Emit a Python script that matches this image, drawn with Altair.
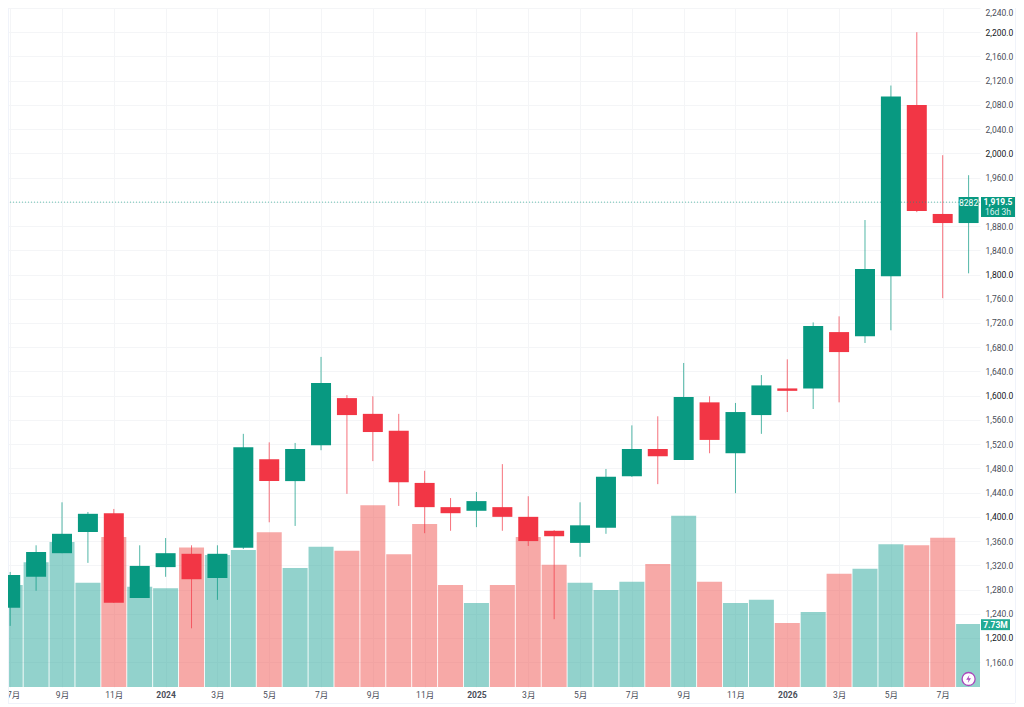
import altair as alt
import pandas as pd

month_index = list(range(38))
opens = [1250,1301,1340,1375,1406,1266,1317,1339,1299,1349,1495,1459,1518,1596,1570,1542,1456,1416,1410,1416,1400,1377,1357,1382,1467,1512,1494,1589,1505,1568,1612,1612,1705,1698,1797,2080,1900,1885]
highs = [1309,1353,1424,1408,1413,1353,1365,1353,1353,1537,1523,1522,1664,1601,1599,1570,1476,1431,1441,1487,1434,1378,1424,1479,1551,1566,1654,1599,1588,1634,1660,1721,1731,1890,2112,2200,1997,1964]
lows = [1220,1278,1340,1324,1258,1266,1301,1216,1263,1347,1391,1385,1510,1438,1492,1418,1373,1377,1383,1377,1352,1231,1334,1372,1466,1454,1494,1505,1439,1537,1573,1578,1589,1687,1708,1903,1761,1802]
closes = [1304,1342,1372,1405,1258,1319,1340,1297,1339,1515,1459,1512,1621,1568,1540,1457,1416,1406,1426,1400,1360,1368,1386,1466,1512,1500,1598,1527,1573,1617,1608,1715,1672,1809,2094,1905,1885,1919.5]
volumes = [12.5,15.3,17.8,12.8,18.4,12.3,12.1,17.1,16.2,16.8,19.0,14.6,17.2,16.7,22.3,16.3,20.0,12.5,10.3,12.5,18.4,15.0,12.8,11.9,12.9,15.1,21.0,12.9,10.3,10.7,7.85,9.2,13.9,14.5,17.5,17.4,18.3,7.73]
vol_up = [1,1,1,1,0,1,1,0,1,1,0,1,1,0,0,0,0,0,1,0,0,0,1,1,1,0,1,0,1,1,0,1,0,1,1,0,0,1]
tick_labels = ["7月","9月","11月","2024","3月","5月","7月","9月","11月","2025","3月","5月","7月","9月","11月","2026","3月","5月","7月"]
price_ticks = list(range(1160, 2241, 40))

UP, DOWN = "#089981", "#f23645"
FONT = "Roboto, Noto Sans CJK SC, sans-serif"
GRID = "#f4f5f7"

df = pd.DataFrame({"i": month_index, "o": opens, "h": highs, "l": lows, "c": closes, "v": volumes, "vu": vol_up})
df["top"] = df[["o", "c"]].max(axis=1)
df["bot"] = df[["o", "c"]].min(axis=1)
df["dir"] = ["up" if c >= o else "down" for o, c in zip(opens, closes)]
df["vdir"] = ["up" if u else "down" for u in vol_up]

dir_scale = alt.Scale(domain=["up", "down"], range=[UP, DOWN])
vol_scale = alt.Scale(domain=["up", "down"], range=["#26a69a", "#ef5350"])
labels_js = "[" + ",".join(f"'{t}'" for t in tick_labels) + "]"

x_scale = alt.Scale(domain=[-0.085, 37.44], nice=False, zero=False, padding=0)
x_axis = alt.Axis(values=list(range(0, 37, 2)), labelExpr=f"{labels_js}[datum.value/2]",
                  title=None, domain=False, ticks=False, grid=True, gridColor=GRID,
                  labelFont=FONT, labelFontSize=8.5, labelColor="#4a4e59", labelPadding=3,
                  labelOverlap=False, labelBound=False, labelAngle=0,
                  labelOffset={"condition": {"test": "datum.value==0", "value": 3}, "value": 0},
                  labelFontWeight={"condition": {"test": "indexof([6,18,30],datum.value)>=0", "value": "bold"}, "value": "normal"})
x = alt.X("i:Q", scale=x_scale, axis=x_axis)

y_scale = alt.Scale(domain=[1119.1, 2240], nice=False, zero=False)
y_axis = alt.Axis(values=price_ticks, orient="right", format=",.1f", title=None, domain=False, ticks=False,
                  grid=True, gridColor=GRID, labelFont=FONT, labelFontSize=8.5, labelPadding=5,
                  labelFlush=True, labelOverlap=False,
                  labelColor={"condition": {"test": "datum.value%200==0", "value": "#131722"}, "value": "#4a4e59"})
y = alt.Y("l:Q", scale=y_scale, axis=y_axis)

base = alt.Chart(df)

vol = base.mark_bar(size=25, opacity=0.5, clip=True).encode(
    x=x,
    y=alt.Y("v:Q", scale=alt.Scale(domain=[0, 83.3], nice=False), axis=None),
    color=alt.Color("vdir:N", scale=vol_scale, legend=None),
)

wick = base.mark_rule(strokeWidth=1, opacity=0.7, clip=True).encode(
    x=alt.X("i:Q", scale=x_scale, axis=x_axis), y=y, y2="h:Q",
    color=alt.Color("dir:N", scale=dir_scale, legend=None),
)
body = base.mark_bar(size=20, clip=True, orient="vertical").encode(
    x=alt.X("i:Q", scale=x_scale, axis=x_axis),
    y=alt.Y("bot:Q", scale=y_scale, axis=y_axis), y2="top:Q",
    color=alt.Color("dir:N", scale=dir_scale, legend=None),
)

last_df = pd.DataFrame({"i": [37], "p": [closes[-1]], "ctop": [1928.0], "txt": ["8282"], "tp": [1918.5],
                        "price": ["1,919.5"], "ptp": [1920.0], "left": ["16d 3h"], "ltp": [1903.0],
                        "tag_top": [1928.0], "tag_bot": [1895.0], "v_top": [1231.0], "v_bot": [1213.0],
                        "vtxt": ["7.73M"], "vtp": [1222.0]})
last = alt.Chart(last_df)

price_line = last.mark_rule(color=UP, strokeWidth=1, strokeDash=[1, 2], opacity=0.6).encode(
    y=alt.Y("p:Q", scale=y_scale, axis=y_axis))
label_box = last.mark_bar(size=20, color=UP, orient="vertical").encode(
    x=alt.X("i:Q", scale=x_scale, axis=x_axis),
    y=alt.Y("p:Q", scale=y_scale, axis=y_axis), y2="ctop:Q")
label_txt = last.mark_text(color="white", font=FONT, fontSize=8.5, align="center", baseline="middle").encode(
    x=alt.X("i:Q", scale=x_scale, axis=x_axis),
    y=alt.Y("tp:Q", scale=y_scale, axis=y_axis), text="txt:N")

# tags placed in the right-hand axis gutter
tag = last.mark_rect(color=UP).encode(x=alt.value(973), x2=alt.value(1007),
    y=alt.Y("tag_bot:Q", scale=y_scale, axis=y_axis), y2="tag_top:Q")
tag_p = last.mark_text(color="white", font=FONT, fontSize=8.5, fontWeight="bold", align="center", baseline="middle").encode(
    x=alt.value(990), y=alt.Y("ptp:Q", scale=y_scale, axis=y_axis), text="price:N")
tag_l = last.mark_text(color="#dff3f0", font=FONT, fontSize=8.5, align="center", baseline="middle").encode(
    x=alt.value(990), y=alt.Y("ltp:Q", scale=y_scale, axis=y_axis), text="left:N")
vtag = last.mark_rect(color="#22ab94").encode(x=alt.value(973), x2=alt.value(1002),
    y=alt.Y("v_bot:Q", scale=y_scale, axis=y_axis), y2="v_top:Q")
vtag_t = last.mark_text(color="white", font=FONT, fontSize=8.5, fontWeight="bold", align="center", baseline="middle").encode(
    x=alt.value(987.5), y=alt.Y("vtp:Q", scale=y_scale, axis=y_axis), text="vtxt:N")

icon_c = last.mark_point(shape="circle", size=169, filled=True, fill="white", stroke="#ab47bc", strokeWidth=1.3, opacity=1).encode(
    x=alt.X("i:Q", scale=x_scale, axis=x_axis), y=alt.value(671))
icon_b = last.mark_point(shape="M0.1,-0.5L-0.3,0.1L0,0.1L-0.1,0.5L0.3,-0.1L0,-0.1Z", size=256, filled=True,
                         fill="#ab47bc", opacity=1).encode(
    x=alt.X("i:Q", scale=x_scale, axis=x_axis), y=alt.value(671))

frame_bottom = last.mark_rule(color="#f0f3fa", strokeWidth=1).encode(x=alt.value(0), x2=alt.value(1007), y=alt.value(695.5))
frame_right = last.mark_rule(color="#f0f3fa", strokeWidth=1).encode(x=alt.value(1007.5), y=alt.value(0), y2=alt.value(695))
frame_left = last.mark_rule(color="#f0f3fa", strokeWidth=1).encode(x=alt.value(0.5), y=alt.value(0), y2=alt.value(695))

price_layer = alt.layer(frame_bottom, frame_right, frame_left, wick, body, price_line, label_box, label_txt,
                        tag, tag_p, tag_l, vtag, vtag_t, icon_c, icon_b)

chart = alt.layer(vol, price_layer).resolve_scale(y="independent", color="independent").properties(
    width=972, height=679,
    padding={"left": 0, "top": 0, "right": 36, "bottom": 18},
    autosize=alt.AutoSizeParams(type="none"),
    background="white",
).configure_view(stroke=None)

chart.save("out.html", embed_options={"renderer": "svg", "actions": False})
